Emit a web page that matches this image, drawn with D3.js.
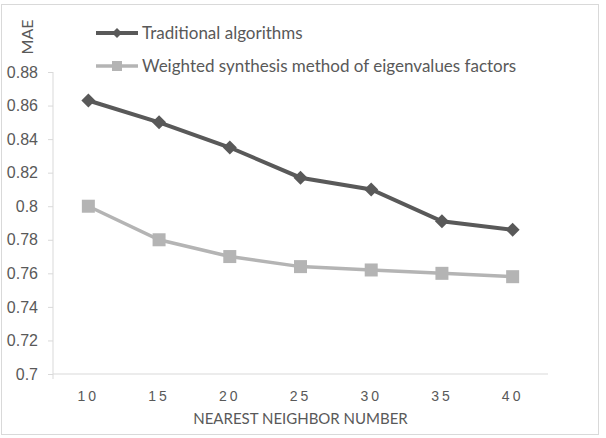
<!DOCTYPE html>
<html lang="en">
<head>
  <meta charset="UTF-8">
  <title>MAE vs nearest neighbor number</title>
  <script src="https://d3js.org/d3.v7.min.js"></script>
  <style>
    body { margin: 0; background: #ffffff; }
    svg { display: block; font-family: Lato, 'Open Sans', sans-serif; }
    .axis-label { fill: #595959; font-size: 15px; }
    .tick-label { fill: #595959; font-size: 16px; }
    .legend text { fill: #595959; font-size: 17px; }
  </style>
</head>
<body>
  <svg class="chart" width="606" height="438"></svg>

  <script>
    const neighbors = [10, 15, 20, 25, 30, 35, 40];
    const traditional = [0.863, 0.850, 0.835, 0.817, 0.810, 0.791, 0.786];
    const weighted = [0.800, 0.780, 0.770, 0.764, 0.762, 0.760, 0.758];
    const yTicks = [0.7, 0.72, 0.74, 0.76, 0.78, 0.8, 0.82, 0.84, 0.86, 0.88];
    const seriesNames = ["Traditional algorithms", "Weighted synthesis method of eigenvalues factors"];

    const svg = d3.select(".chart"),
          margin = {top: 72, right: 58, bottom: 64, left: 53},
          w = +svg.attr("width") - margin.left - margin.right,
          h = +svg.attr("height") - margin.top - margin.bottom;

    // outer frame
    svg.append("rect")
      .attr("x", 1.5).attr("y", 4.5).attr("width", 597).attr("height", 430)
      .attr("fill", "none").attr("stroke", "#d9d9d9");

    const g = svg.append("g").attr("transform", `translate(${margin.left},${margin.top})`);

    const x = d3.scaleBand().domain(neighbors).range([0, w]);
    const y = d3.scaleLinear().domain([0.7, 0.88]).range([h, 0]);

    // y axis
    const yAxis = g.append("g")
      .call(d3.axisLeft(y).tickValues(yTicks).tickSize(5).tickPadding(10).tickFormat(d => String(+d.toFixed(2))));
    yAxis.select(".domain").attr("stroke", "#d9d9d9").attr("d", `M0,0V${h + 5}`);
    yAxis.selectAll(".tick line").attr("stroke", "#d9d9d9");
    yAxis.selectAll(".tick text").attr("class", "tick-label").attr("font-family", null).attr("font-size", null);

    // x axis
    const xAxis = g.append("g").attr("transform", `translate(0,${h})`)
      .call(d3.axisBottom(x).tickSize(0).tickPadding(17));
    xAxis.select(".domain").attr("stroke", "#d9d9d9").attr("d", `M0,0H${w}`);
    xAxis.selectAll(".tick text")
      .attr("fill", "#595959").attr("font-family", null).attr("font-size", "14px")
      .style("letter-spacing", "3px");

    const cx = d => x(d) + x.bandwidth() / 2;

    const line = d3.line()
      .x((d, i) => cx(neighbors[i]))
      .y(d => y(d));

    // weighted series (light)
    g.append("path").datum(weighted)
      .attr("fill", "none").attr("stroke", "#b4b4b4").attr("stroke-width", 3.5)
      .attr("d", line);
    g.selectAll(".sq").data(weighted).join("rect")
      .attr("x", (d, i) => cx(neighbors[i]) - 6.5)
      .attr("y", d => y(d) - 6.5)
      .attr("width", 13).attr("height", 13)
      .attr("fill", "#b4b4b4");

    // traditional series (dark)
    g.append("path").datum(traditional)
      .attr("fill", "none").attr("stroke", "#595959").attr("stroke-width", 4)
      .attr("d", line);
    g.selectAll(".dm").data(traditional).join("path")
      .attr("transform", (d, i) => `translate(${cx(neighbors[i])},${y(d)}) rotate(45)`)
      .attr("d", d3.symbol().type(d3.symbolSquare).size(98))
      .attr("fill", "#595959");

    // legend
    const legend = svg.append("g").attr("class", "legend");
    const legendRows = [
      {name: seriesNames[0], color: "#595959", y: 33, shape: "diamond"},
      {name: seriesNames[1], color: "#b4b4b4", y: 66, shape: "square"}
    ];
    legendRows.forEach(r => {
      legend.append("line")
        .attr("x1", 96).attr("x2", 138).attr("y1", r.y).attr("y2", r.y)
        .attr("stroke", r.color).attr("stroke-width", r.shape === "diamond" ? 4 : 3.5);
      if (r.shape === "diamond") {
        legend.append("path")
          .attr("transform", `translate(117,${r.y}) rotate(45)`)
          .attr("d", d3.symbol().type(d3.symbolSquare).size(50))
          .attr("fill", r.color);
      } else {
        legend.append("rect")
          .attr("x", 112).attr("y", r.y - 5).attr("width", 10).attr("height", 10)
          .attr("fill", r.color);
      }
      legend.append("text")
        .attr("x", 142).attr("y", r.y).attr("dy", "0.35em")
        .text(r.name);
    });

    // axis titles
    svg.append("text")
      .attr("class", "axis-label")
      .attr("transform", `translate(${margin.left + w / 2}, 419)`)
      .attr("dy", "0.35em")
      .style("text-anchor", "middle")
      .text("NEAREST NEIGHBOR NUMBER");

    svg.append("text")
      .attr("class", "axis-label")
      .style("font-size", "16px")
      .attr("transform", `translate(27,37) rotate(-90)`)
      .attr("dy", "0.35em")
      .style("text-anchor", "middle")
      .text("MAE");
  </script>
</body>
</html>
